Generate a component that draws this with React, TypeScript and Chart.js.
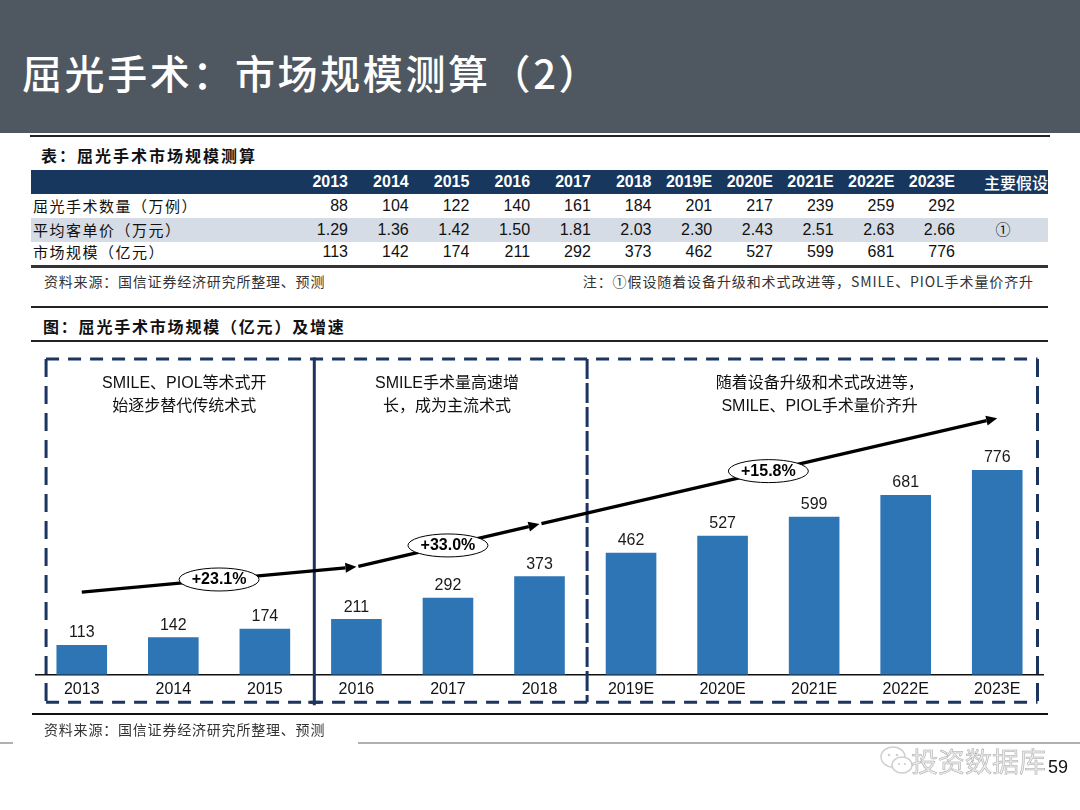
import React, { useEffect, useRef } from "react";
import { Chart, registerables } from "chart.js";
Chart.register(...registerables);

const FONT = '"Liberation Sans", "Noto Sans CJK SC", Arial, sans-serif';
const CJK = '"Noto Sans CJK SC", "Liberation Sans", sans-serif';

const pageTitle = "屈光手术：市场规模测算（2）";
const tableTitle = "表：屈光手术市场规模测算";
const chartTitle = "图：屈光手术市场规模（亿元）及增速";
const sourceText = "资料来源：国信证券经济研究所整理、预测";
const noteText = "注：①假设随着设备升级和术式改进等，SMILE、PIOL手术量价齐升";

const years = ["2013", "2014", "2015", "2016", "2017", "2018", "2019E", "2020E", "2021E", "2022E", "2023E"];
const rowLabels = ["屈光手术数量（万例）", "平均客单价（万元）", "市场规模（亿元）"];
const surgeries = ["88", "104", "122", "140", "161", "184", "201", "217", "239", "259", "292"];
const avgPrice = ["1.29", "1.36", "1.42", "1.50", "1.81", "2.03", "2.30", "2.43", "2.51", "2.63", "2.66"];
const marketSizeText = ["113", "142", "174", "211", "292", "373", "462", "527", "599", "681", "776"];
const assumptionHeader = "主要假设";
const assumptions = ["", "①", ""];

const marketSize = [113, 142, 174, 211, 292, 373, 462, 527, 599, 681, 776];

// trend arrow path: [category index, value]
const trendPoints: [number, number][] = [[0, 313], [3, 409], [5, 571], [10, 972]];
const growthLabels = ["+23.1%", "+33.0%", "+15.8%"];
const growthLabelAt = [1.5, 4.0, 7.5];

const phaseTexts = [
  ["SMILE、PIOL等术式开", "始逐步替代传统术式"],
  ["SMILE手术量高速增", "长，成为主流术式"],
  ["随着设备升级和术式改进等，", "SMILE、PIOL手术量价齐升"],
];
const phaseTextAt = [1.12, 3.99, 8.06];
const phaseBounds = [-0.39, 2.54, 5.52, 10.44];

const NAVY = "#1b3560";

const overlay = {
  id: "overlay",
  afterDatasetsDraw(chart: any) {
    const ctx = chart.ctx;
    const xs = chart.scales.x;
    const ys = chart.scales.y;
    const ca = chart.chartArea;
    ctx.save();

    // data labels
    const meta = chart.getDatasetMeta(0);
    ctx.font = `16px ${FONT}`;
    ctx.fillStyle = "#1a1a1a";
    ctx.textAlign = "center";
    ctx.textBaseline = "middle";
    meta.data.forEach((bar: any, i: number) => {
      ctx.fillText(String(marketSize[i]), bar.x, bar.y - 12);
    });

    // phase boxes
    const top = ca.top + 1;
    const bottom = ca.bottom + 27.5;
    const bx = phaseBounds.map((b) => xs.getPixelForValue(b));
    ctx.strokeStyle = NAVY;
    ctx.lineWidth = 3;
    ctx.setLineDash([13, 9]);
    ctx.beginPath();
    ctx.moveTo(bx[0], top); ctx.lineTo(bx[3], top);
    ctx.moveTo(bx[0], bottom); ctx.lineTo(bx[3], bottom);
    ctx.stroke();
    ctx.setLineDash([18, 9]);
    ctx.beginPath();
    ctx.moveTo(bx[0], top); ctx.lineTo(bx[0], bottom);
    ctx.moveTo(bx[3], top); ctx.lineTo(bx[3], bottom);
    ctx.stroke();
    ctx.setLineDash([20, 4]);
    ctx.beginPath();
    ctx.moveTo(bx[2], top); ctx.lineTo(bx[2], bottom);
    ctx.stroke();
    ctx.setLineDash([]);
    ctx.beginPath();
    ctx.moveTo(bx[1], top - 1.5); ctx.lineTo(bx[1], bottom + 3);
    ctx.stroke();
    ctx.beginPath();
    ctx.moveTo(bx[1] - 6, bottom); ctx.lineTo(bx[1] + 6, bottom);
    ctx.stroke();

    // phase texts
    ctx.fillStyle = "#111";
    ctx.font = `16px ${FONT}`;
    phaseTexts.forEach((lines, i) => {
      const cx = xs.getPixelForValue(phaseTextAt[i]);
      lines.forEach((t, j) => ctx.fillText(t, cx, ca.top + 26 + j * 23));
    });

    // trend arrows
    const pts = trendPoints.map(([i, v]) => [xs.getPixelForValue(i), ys.getPixelForValue(v)]);
    ctx.strokeStyle = "#000";
    ctx.fillStyle = "#000";
    ctx.lineWidth = 3.3;
    for (let k = 0; k < pts.length - 1; k++) {
      const [x0, y0] = pts[k];
      const [x1, y1] = pts[k + 1];
      const dx = x1 - x0, dy = y1 - y0;
      const len = Math.hypot(dx, dy);
      const ux = dx / len, uy = dy / len;
      const sx = k === 0 ? x0 : x0 + ux * 2;
      const sy = k === 0 ? y0 : y0 + uy * 2;
      const head = 11, hw = 5;
      ctx.beginPath();
      ctx.moveTo(sx, sy);
      ctx.lineTo(x1 - ux * head, y1 - uy * head);
      ctx.stroke();
      ctx.beginPath();
      ctx.moveTo(x1, y1);
      ctx.lineTo(x1 - ux * head - uy * hw, y1 - uy * head + ux * hw);
      ctx.lineTo(x1 - ux * head + uy * hw, y1 - uy * head - ux * hw);
      ctx.closePath();
      ctx.fill();

      // growth ellipse
      const ex = xs.getPixelForValue(growthLabelAt[k]);
      const ey = y0 + ((ex - x0) / dx) * dy;
      ctx.beginPath();
      ctx.ellipse(ex, ey, 40, 11.5, 0, 0, Math.PI * 2);
      ctx.fillStyle = "#fff";
      ctx.fill();
      ctx.lineWidth = 1;
      ctx.stroke();
      ctx.fillStyle = "#000";
      ctx.font = `bold 16px ${FONT}`;
      ctx.fillText(growthLabels[k], ex, ey + 0.5);
      ctx.lineWidth = 3.3;
    }
    ctx.restore();
  },
};

type TProps = {
  x: number; y: number; children: React.ReactNode; size?: number; align?: "left" | "right" | "center";
  color?: string; bold?: boolean; family?: string; ls?: number; weight?: number;
};
function T({ x, y, children, size = 16, align = "left", color = "#111", bold = false, family = FONT, ls = 0, weight }: TProps) {
  const w = 700;
  const left = align === "left" ? x : align === "right" ? x - w : x - w / 2;
  return (
    <div
      style={{
        position: "absolute", left, top: y - size, width: w, height: size * 2, lineHeight: `${size * 2}px`,
        textAlign: align, fontSize: size, color, fontFamily: family, fontWeight: weight ?? (bold ? 700 : 400),
        letterSpacing: ls, whiteSpace: "nowrap",
      }}
    >
      {children}
    </div>
  );
}

function Rect({ x, y, w, h, bg }: { x: number; y: number; w: number; h: number; bg: string }) {
  return <div style={{ position: "absolute", left: x, top: y, width: w, height: h, background: bg }} />;
}

export default function App() {
  const ref = useRef<HTMLCanvasElement>(null);
  useEffect(() => {
    const chart = new Chart(ref.current as HTMLCanvasElement, {
      type: "bar",
      data: {
        labels: years,
        datasets: [{ data: marketSize, backgroundColor: "#2e75b6", borderWidth: 0, barPercentage: 0.553, categoryPercentage: 1 }],
      },
      options: {
        animation: false,
        responsive: false,
        maintainAspectRatio: false,
        layout: { padding: { left: 36, right: 37, top: 13, bottom: 11 } },
        plugins: { legend: { display: false }, tooltip: { enabled: false }, title: { display: false } },
        scales: {
          x: {
            grid: { display: false, drawTicks: false },
            border: { display: true, color: "#111", width: 1.5 },
            ticks: { color: "#111", font: { size: 16, family: FONT }, padding: 5, maxRotation: 0, autoSkip: false },
          },
          y: { display: false, min: 0, max: 1200 },
        },
      },
      plugins: [overlay],
    } as any);
    return () => chart.destroy();
  }, []);

  const colRight = (i: number) => 348 + i * 60.7;
  const rows = [surgeries, avgPrice, marketSizeText];
  const rowY = [206, 230, 252];

  return (
    <div style={{ position: "fixed", left: 0, top: 0, width: 1080, height: 810, background: "#fff", overflow: "hidden" }}>
      <Rect x={0} y={0} w={1080} h={133} bg="#4f5860" />
      <T x={22} y={72} size={40} color="#fff" family={CJK} weight={500} ls={2.6}>{pageTitle}</T>
      <Rect x={30} y={135} w={1020} h={2} bg="#222" />

      <T x={41} y={155} size={16} family={CJK} bold ls={2}>{tableTitle}</T>
      <Rect x={31} y={170} w={1017} h={24} bg="#17375e" />
      {years.map((yr, i) => (
        <T key={yr} x={colRight(i)} y={182} align="right" color="#fff" bold>{yr}</T>
      ))}
      <T x={984} y={182} color="#fff" family={CJK} weight={500} ls={0}>{assumptionHeader}</T>
      <Rect x={31} y={218} w={1017} h={24} bg="#d6dce5" />
      {rows.map((r, ri) => (
        <React.Fragment key={ri}>
          <T x={33} y={rowY[ri]} size={15} family={CJK} ls={1.5}>{rowLabels[ri]}</T>
          {r.map((v, i) => (
            <T key={i} x={colRight(i)} y={rowY[ri]} align="right">{v}</T>
          ))}
          <T x={1003} y={rowY[ri]} align="center" size={15}>{assumptions[ri]}</T>
        </React.Fragment>
      ))}
      <Rect x={31} y={265} w={1017} h={3} bg="#333" />
      <T x={44} y={281} size={14} family={CJK} color="#333" ls={0.8}>{sourceText}</T>
      <T x={1034} y={281} size={14} family={CJK} color="#333" align="right" ls={0.9}>{noteText}</T>

      <Rect x={31} y={306} w={1017} h={2} bg="#222" />
      <T x={43} y={326} size={16} family={CJK} bold ls={1.8}>{chartTitle}</T>
      <Rect x={31} y={340} w={1017} h={2} bg="#222" />

      <canvas ref={ref} width={1080} height={370} style={{ position: "absolute", left: 0, top: 345, width: 1080, height: 370 }} />

      <Rect x={32} y={713} w={1016} h={2} bg="#111" />
      <T x={44} y={729} size={14} family={CJK} color="#333" ls={0.8}>{sourceText}</T>
      <Rect x={0} y={742} w={13} h={2} bg="#b0b0b0" />
      <Rect x={358} y={742} w={722} h={2} bg="#b0b0b0" />

      <svg style={{ position: "absolute", left: 878, top: 744 }} width={40} height={36}>
        <ellipse cx={15} cy={13} rx={12} ry={10} fill="#fff" stroke="#cfcfcf" strokeWidth={1.5} />
        <ellipse cx={24} cy={21} rx={10} ry={8} fill="#fff" stroke="#cfcfcf" strokeWidth={1.5} />
        <circle cx={11} cy={11} r={1.3} fill="#cfcfcf" />
        <circle cx={19} cy={11} r={1.3} fill="#cfcfcf" />
        <circle cx={21} cy={20} r={1.1} fill="#cfcfcf" />
        <circle cx={27} cy={20} r={1.1} fill="#cfcfcf" />
      </svg>
      <T x={911} y={761} size={27} family={CJK} color="#ececec" weight={400}>
        <span style={{ WebkitTextStroke: "0.5px #a8a8a8" }}>投资数据库</span>
      </T>
      <T x={1048} y={767} size={18} color="#111">59</T>
    </div>
  );
}
